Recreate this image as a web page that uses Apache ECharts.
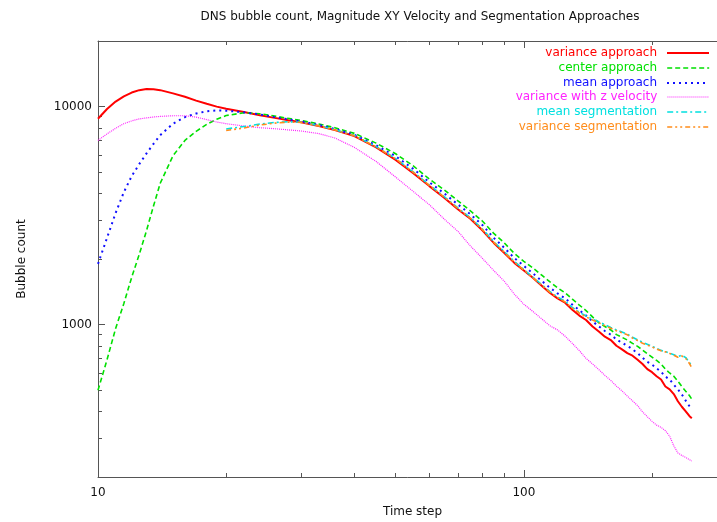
<!DOCTYPE html>
<html><head><meta charset="utf-8">
<script src="https://cdn.jsdelivr.net/npm/echarts@6/dist/echarts.min.js"></script>
<style>html,body{margin:0;padding:0;background:#fff}#c{width:717px;height:522px}</style>
</head><body><div id="c"></div>
<script>
const chartTitle = 'DNS bubble count, Magnitude XY Velocity and Segmentation Approaches';
const xAxisName = 'Time step';
const yAxisName = 'Bubble count';
const seriesNames = ['variance approach', 'center approach', 'mean approach', 'variance with z velocity', 'mean segmentation', 'variance segmentation'];

const timeSteps = [10,10.5,11,11.5,12,12.5,13,13.5,14,15,16,17,18,19,20,22,24,26,28,30,33,36,40,45,50,55,60,65,70,75,80,85,90,95,100,105,110,115,120,125,130,135,140,145,150,155,160,165,170,175,180,185,190,195,200,205,210,215,220,225,230,235,240,245,248];

const varianceApproach = [8800,9750,10550,11150,11600,11900,12050,12020,11900,11500,11100,10650,10300,10000,9780,9450,9120,8880,8660,8480,8150,7800,7330,6500,5700,4950,4320,3820,3380,3050,2700,2370,2130,1920,1770,1640,1510,1400,1320,1260,1170,1100,1050,980,930,880,850,800,770,740,720,690,660,625,605,580,560,520,505,480,445,420,400,380,372];

const centerApproach = [500,690,960,1250,1650,2100,2700,3500,4450,5950,7000,7700,8300,8750,9100,9370,9280,9050,8830,8650,8330,8000,7540,6800,6080,5350,4650,4150,3700,3320,2980,2620,2370,2120,1950,1820,1690,1575,1475,1400,1310,1230,1160,1085,1020,980,945,900,875,850,820,795,765,735,710,685,660,625,600,580,550,520,495,472,455];

const meanApproach = [1900,2500,3250,4050,4800,5450,6100,6750,7400,8350,8950,9300,9520,9600,9580,9420,9200,8950,8740,8560,8240,7900,7430,6650,5920,5180,4500,4000,3560,3200,2860,2500,2250,2020,1860,1720,1590,1480,1390,1320,1235,1165,1100,1035,982,935,900,855,825,800,770,740,705,675,655,630,608,578,560,530,505,478,448,422,410];

const varianceWithZVelocity = [7000,7500,7950,8350,8600,8780,8880,8960,9020,9080,9080,8950,8720,8500,8350,8150,8000,7920,7820,7730,7520,7180,6500,5600,4750,4080,3550,3050,2680,2290,2010,1770,1580,1380,1240,1150,1065,990,945,885,820,760,700,660,622,585,555,522,497,470,447,425,398,378,360,346,338,326,308,278,258,251,246,240,237];

const meanSegmentation = [null,null,null,null,null,null,null,null,null,null,null,null,null,null,7900,8100,8320,8460,8520,8490,8180,7830,7370,6550,5780,5020,4370,3870,3430,3090,2740,2400,2160,1950,1790,1650,1530,1420,1340,1280,1200,1140,1095,1060,1030,1000,970,945,925,905,875,852,830,812,796,778,762,752,740,728,714,724,706,670,642];

const varianceSegmentation = [null,null,null,null,null,null,null,null,null,null,null,null,null,null,7770,7980,8230,8400,8490,8470,8160,7810,7350,6530,5760,5000,4350,3850,3410,3075,2725,2385,2145,1935,1780,1640,1520,1410,1330,1270,1190,1130,1085,1050,1020,990,962,938,918,898,868,845,822,806,790,772,758,750,738,724,708,718,700,662,634];

const xMajorTicks = [10, 100];
const yMajorTicks = [1000, 10000];
const xMinorTicks = [20, 30, 40, 50, 60, 70, 80, 90, 200];
const yMinorTicks = [300, 400, 500, 600, 700, 800, 900, 2000, 3000, 4000, 5000, 6000, 7000, 8000, 9000];

const seriesValues = [varianceApproach, centerApproach, meanApproach, varianceWithZVelocity, meanSegmentation, varianceSegmentation];
const styles = [
  {color: '#ff0000', width: 2, type: 'solid'},
  {color: '#00e000', width: 1.6, type: [5, 3]},
  {color: '#1010ff', width: 2, type: [2, 4]},
  {color: '#ff22ff', width: 1.2, type: [1, 1]},
  {color: '#00e0e0', width: 1.6, type: [6, 3, 2, 3]},
  {color: '#ff8c1a', width: 1.6, type: [5, 3, 2, 3, 2, 3]}
];
const legendTops = [47, 62, 77, 91, 106, 121];

const FONT = 'DejaVu Sans';
const AXIS_COLOR = '#555';
const TEXT_COLOR = '#111';
const X_MIN = 10, X_MAX = 300, Y_MIN = 200, Y_MAX = 20000;

function pairs(vals) {
  const out = [];
  for (let i = 0; i < timeSteps.length; i++) {
    if (vals[i] != null) out.push([timeSteps[i], vals[i]]);
  }
  return out;
}

const chart = echarts.init(document.getElementById('c'), null, {renderer: 'canvas'});

const baseLine = {show: true, onZero: false, lineStyle: {color: AXIS_COLOR, width: 1}};
const majorTick = {show: true, inside: true, length: 7, lineStyle: {color: AXIS_COLOR, width: 1}};
const minorTickX = {show: true, inside: true, length: 4, lineStyle: {color: AXIS_COLOR, width: 1}, customValues: xMinorTicks.map(Math.log10)};
const minorTickY = {show: true, inside: true, length: 4, lineStyle: {color: AXIS_COLOR, width: 1}, customValues: yMinorTicks.map(Math.log10)};

const option = {
  animation: false,
  backgroundColor: '#ffffff',
  title: {
    text: chartTitle, left: 420, top: 11, textAlign: 'center', padding: 0,
    textStyle: {fontFamily: FONT, fontSize: 12, fontWeight: 'normal', color: TEXT_COLOR}
  },
  legend: seriesNames.map((n, i) => ({
    data: [n], right: 7, top: legendTops[i], padding: 0, align: 'right', orient: 'vertical',
    itemWidth: 42, itemHeight: 14, selectedMode: false,
    itemStyle: {opacity: 0, borderWidth: 0},
    lineStyle: {color: styles[i].color, width: styles[i].width, type: styles[i].type},
    textStyle: {fontFamily: FONT, fontSize: 12, color: styles[i].color, padding: [0, 5, 0, 0]}
  })),
  grid: {left: 98, top: 41, width: 629, height: 436, containLabel: false, outerBoundsMode: 'none'},
  xAxis: [
    {type: 'log', logBase: 10, position: 'bottom', min: X_MIN, max: X_MAX,
     axisLine: baseLine, axisTick: majorTick, splitLine: {show: false},
     axisLabel: {margin: 10, fontFamily: FONT, fontSize: 12, color: TEXT_COLOR, showMaxLabel: false,
       formatter: v => { const r = Math.round(v); return xMajorTicks.includes(r) ? String(r) : ''; }},
     name: xAxisName, nameLocation: 'middle', nameGap: 29,
     nameTextStyle: {fontFamily: FONT, fontSize: 12, color: TEXT_COLOR}},
    {type: 'log', logBase: 10, position: 'top', min: X_MIN, max: X_MAX,
     axisLine: baseLine, axisTick: majorTick, splitLine: {show: false}, axisLabel: {show: false}},
    {type: 'value', position: 'bottom', min: Math.log10(X_MIN), max: Math.log10(X_MAX),
     axisLine: {show: false}, axisTick: minorTickX, splitLine: {show: false}, axisLabel: {show: false}},
    {type: 'value', position: 'top', min: Math.log10(X_MIN), max: Math.log10(X_MAX),
     axisLine: {show: false}, axisTick: minorTickX, splitLine: {show: false}, axisLabel: {show: false}}
  ],
  yAxis: [
    {type: 'log', logBase: 10, position: 'left', min: Y_MIN, max: Y_MAX,
     axisLine: baseLine, axisTick: majorTick, splitLine: {show: false},
     axisLabel: {margin: 6, fontFamily: FONT, fontSize: 12, color: TEXT_COLOR, showMinLabel: false, showMaxLabel: false,
       formatter: v => { const r = Math.round(v); return yMajorTicks.includes(r) ? String(r) : ''; }},
     name: yAxisName, nameLocation: 'middle', nameGap: 70, nameRotate: 90,
     nameTextStyle: {fontFamily: FONT, fontSize: 12, color: TEXT_COLOR}},
    {type: 'value', position: 'left', min: Math.log10(Y_MIN), max: Math.log10(Y_MAX),
     axisLine: {show: false}, axisTick: minorTickY, splitLine: {show: false}, axisLabel: {show: false}}
  ],
  series: seriesNames.map((n, i) => ({
    name: n, type: 'line', xAxisIndex: 0, yAxisIndex: 0,
    data: pairs(seriesValues[i]), symbol: 'none', showSymbol: false, clip: true,
    color: styles[i].color,
    lineStyle: {color: styles[i].color, width: styles[i].width, type: styles[i].type},
    emphasis: {disabled: true}
  }))
};
chart.setOption(option);
</script>
</body></html>
